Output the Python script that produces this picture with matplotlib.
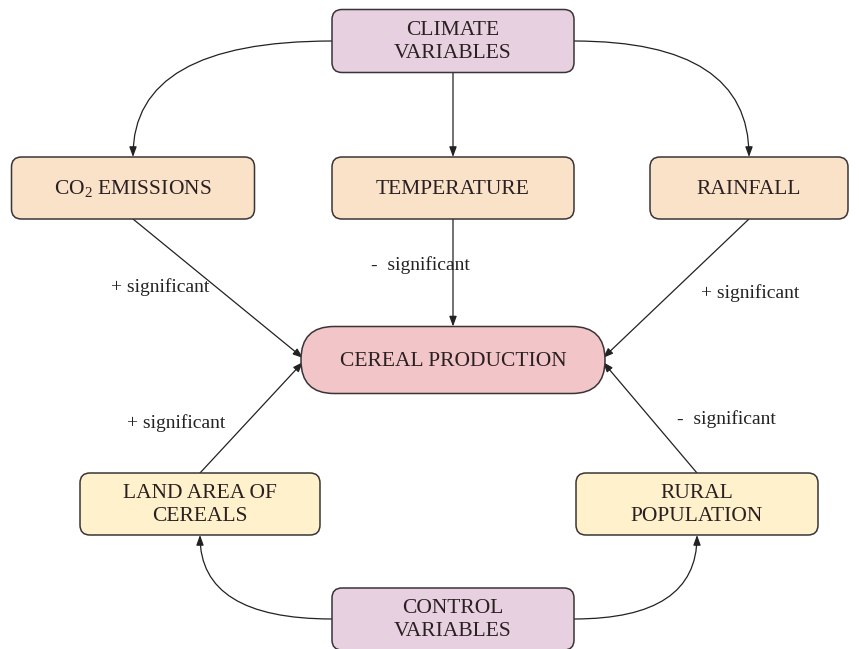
import matplotlib
matplotlib.use("Agg")
import matplotlib.pyplot as plt
from matplotlib.patches import FancyBboxPatch

plt.rcParams['font.family'] = ['Liberation Serif', 'DejaVu Serif']
plt.rcParams['mathtext.fontset'] = 'custom'
plt.rcParams['mathtext.rm'] = 'Liberation Serif'

# Nodes: name -> (label, center x, center y, width, height, fill, rounding)
node_names = ["climate", "co2", "temp", "rain", "cereal", "land", "rural", "control"]
node_labels = ["CLIMATE\nVARIABLES", r"CO$_\mathrm{2}$ EMISSIONS", "TEMPERATURE", "RAINFALL",
               "CEREAL PRODUCTION", "LAND AREA OF\nCEREALS", "RURAL\nPOPULATION", "CONTROL\nVARIABLES"]
node_cx = [453, 133, 453, 749, 453, 200, 697, 453]
node_cy = [41, 188, 188, 188, 360, 504, 504, 619]
node_w = [242, 243, 242, 198, 304, 240, 242, 242]
node_h = [63, 62, 62, 62, 67, 62, 62, 62]
node_fill = ["#E7D0DF", "#FAE2C9", "#FAE2C9", "#FAE2C9", "#F2C6C8", "#FEF1CB", "#FEF1CB", "#E7D0DF"]
node_round = [10, 10, 10, 10, 33, 10, 10, 10]

edge_labels = ["+ significant", "-  significant", "+ significant", "+ significant", "-  significant"]
edge_label_x = [160, 420, 750, 176, 726]
edge_label_y = [287, 265, 293, 423, 419]

fig = plt.figure(figsize=(8.59, 6.49), dpi=100)
ax = fig.add_axes([0, 0, 1, 1])
ax.set_xlim(0, 859)
ax.set_ylim(649, 0)
ax.axis('off')

nodes = {}
for name, lab, cx, cy, w, h, fc, r in zip(node_names, node_labels, node_cx, node_cy,
                                          node_w, node_h, node_fill, node_round):
    box = FancyBboxPatch((cx - w / 2, cy - h / 2), w, h,
                         boxstyle=f"round,pad=0,rounding_size={r}",
                         fc=fc, ec="#3a3436", lw=1.1, zorder=2)
    ax.add_patch(box)
    ax.text(cx, cy + 1, lab, ha='center', va='center', fontsize=15.5,
            color="#2a2022", linespacing=1.22, zorder=3)
    nodes[name] = (cx, cy, w, h)

def left(n):
    cx, cy, w, h = nodes[n]; return (cx - w / 2, cy)
def right(n):
    cx, cy, w, h = nodes[n]; return (cx + w / 2, cy)
def top(n):
    cx, cy, w, h = nodes[n]; return (cx, cy - h / 2)
def bottom(n):
    cx, cy, w, h = nodes[n]; return (cx, cy + h / 2)

arrow_kw = dict(arrowstyle='-|>,head_length=0.6,head_width=0.22', color='#222222', lw=0.9,
                shrinkA=0, shrinkB=0)

def arrow(p_from, p_to, conn="arc3"):
    ax.annotate("", xy=p_to, xytext=p_from,
                arrowprops=dict(connectionstyle=conn, **arrow_kw), zorder=1)

# Climate variables to drivers
arrow(left("climate"), top("co2"), "angle3,angleA=180,angleB=90")
arrow(right("climate"), top("rain"), "angle3,angleA=0,angleB=90")
arrow(bottom("climate"), top("temp"))
# Drivers to cereal production
cer_l = left("cereal"); cer_r = right("cereal")
arrow(bottom("co2"), (cer_l[0] + 2, cer_l[1] - 2))
arrow(bottom("temp"), top("cereal"))
arrow(bottom("rain"), (cer_r[0] - 2, cer_r[1] - 2))
arrow(top("land"), (cer_l[0] + 2, cer_l[1] + 2))
arrow(top("rural"), (cer_r[0] - 2, cer_r[1] + 2))
# Control variables to controls
arrow(left("control"), bottom("land"), "angle3,angleA=180,angleB=-90")
arrow(right("control"), bottom("rural"), "angle3,angleA=0,angleB=-90")

for lab, x, y in zip(edge_labels, edge_label_x, edge_label_y):
    ax.text(x, y, lab, ha='center', va='center', fontsize=14, color="#222222", zorder=3)

fig.savefig("out.png", dpi=100)
